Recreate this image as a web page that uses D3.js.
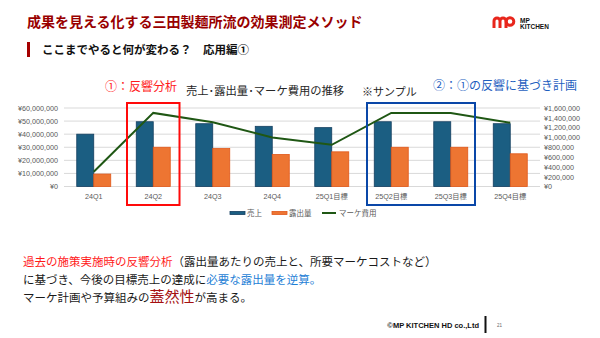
<!DOCTYPE html>
<html>
<head>
<meta charset="utf-8">
<script src="https://cdn.jsdelivr.net/npm/d3@7"></script>
<style>
  body { margin: 0; background: #fff; }
  svg { display: block; font-family: "Noto Sans CJK JP", sans-serif; }
  .num { font-family: "Liberation Sans", Arial, sans-serif; }
</style>
</head>
<body>
<div id="chart"></div>
<script>
const categories = ["24Q1", "24Q2", "24Q3", "24Q4", "25Q1目標", "25Q2目標", "25Q3目標", "25Q4目標"];
const sales = [40000000, 49500000, 48000000, 46000000, 45000000, 49500000, 49500000, 48000000];
const exposure = [9500000, 30000000, 29000000, 24500000, 26500000, 30000000, 30000000, 25000000];
const marketingCost = [300000, 1500000, 1310000, 1000000, 850000, 1500000, 1500000, 1300000];
const leftTicks = [0, 10000000, 20000000, 30000000, 40000000, 50000000, 60000000];
const rightTicks = [0, 200000, 400000, 600000, 800000, 1000000, 1200000, 1400000, 1600000];
const seriesNames = ["売上", "露出量", "マーケ費用"];

const width = 600, height = 338;
const plot = { left: 64, right: 540, top: 108, bottom: 186.5 };

const svg = d3.select("#chart").append("svg")
  .attr("width", width).attr("height", height);

// header
svg.append("text").attr("x", 27).attr("y", 27)
  .attr("font-size", 14).attr("font-weight", "bold").attr("fill", "#990000")
  .text("成果を見える化する三田製麺所流の効果測定メソッド");
svg.append("rect").attr("x", 27).attr("y", 42).attr("width", 3).attr("height", 15).attr("fill", "#a50000");
svg.append("text").attr("x", 42).attr("y", 54)
  .attr("font-size", 11.5).attr("font-weight", "bold").attr("fill", "#111")
  .text("ここまでやると何が変わる？　応用編①");

// logo
const logo = svg.append("g");
logo.append("path")
  .attr("d", "M494,28 V21 a3,3 0 0 1 6,0 V28 M500,21 a3,3 0 0 1 6,0 V28")
  .attr("fill", "none").attr("stroke", "#e8261c").attr("stroke-width", 3);
logo.append("circle").attr("cx", 510).attr("cy", 21.5).attr("r", 3.8)
  .attr("fill", "none").attr("stroke", "#e8261c").attr("stroke-width", 3);
logo.append("text").attr("x", 520).attr("y", 22.5).attr("class", "num")
  .attr("font-size", 6.5).attr("font-weight", "bold").attr("fill", "#111").text("MP");
logo.append("text").attr("x", 520).attr("y", 29).attr("class", "num")
  .attr("font-size", 6.5).attr("font-weight", "bold").attr("fill", "#111").text("KITCHEN");

// scales
const x = d3.scaleBand().domain(categories).range([plot.left, plot.right]).padding(0);
const groupW = 34;
const x1 = d3.scaleBand().domain(["sales", "exposure"])
  .range([(x.bandwidth() - groupW) / 2, (x.bandwidth() + groupW) / 2]);
const yL = d3.scaleLinear().domain([0, 60000000]).range([plot.bottom, plot.top]);
const yR = d3.scaleLinear().domain([0, 1600000]).range([plot.bottom, plot.top]);

// gridlines
svg.append("g").selectAll("line").data(leftTicks).join("line")
  .attr("x1", plot.left).attr("x2", plot.right)
  .attr("y1", d => yL(d)).attr("y2", d => yL(d))
  .attr("stroke", "#d9d9d9").attr("stroke-width", 1);

// axes
const yen = d => "¥" + d3.format(",")(d);
const axL = svg.append("g").attr("transform", `translate(${plot.left},0)`)
  .call(d3.axisLeft(yL).tickValues(leftTicks).tickFormat(yen).tickSize(0).tickPadding(6));
const axR = svg.append("g").attr("transform", `translate(${plot.right},0)`)
  .call(d3.axisRight(yR).tickValues(rightTicks).tickFormat(yen).tickSize(0).tickPadding(4));
const axB = svg.append("g").attr("transform", `translate(0,${plot.bottom})`)
  .call(d3.axisBottom(x).tickSize(0).tickPadding(7));
[axL, axR, axB].forEach(a => {
  a.select(".domain").remove();
  a.selectAll("text").attr("fill", "#595959").attr("font-size", 7.2)
    .attr("font-family", "'Liberation Sans', 'Noto Sans CJK JP', sans-serif");
});

// bars
const groups = svg.append("g").selectAll("g").data(categories).join("g")
  .attr("transform", d => `translate(${x(d)},0)`);
groups.append("rect")
  .attr("x", x1("sales")).attr("width", x1.bandwidth())
  .attr("y", (d, i) => yL(sales[i])).attr("height", (d, i) => plot.bottom - yL(sales[i]))
  .attr("fill", "#1b5e82").attr("stroke", "#143f60").attr("stroke-width", 0.8);
groups.append("rect")
  .attr("x", x1("exposure")).attr("width", x1.bandwidth())
  .attr("y", (d, i) => yL(exposure[i])).attr("height", (d, i) => plot.bottom - yL(exposure[i]))
  .attr("fill", "#ed7532").attr("stroke", "#e0571a").attr("stroke-width", 0.8);

// line
const line = d3.line()
  .x((d, i) => x(categories[i]) + x.bandwidth() / 2)
  .y(d => yR(d));
svg.append("path").datum(marketingCost).attr("d", line)
  .attr("fill", "none").attr("stroke", "#1f5714").attr("stroke-width", 2);

// highlight boxes
svg.append("rect")
  .attr("x", x("24Q2") + 3.5).attr("y", 103)
  .attr("width", x.bandwidth() - 7).attr("height", 102)
  .attr("fill", "none").attr("stroke", "#ff0a0a").attr("stroke-width", 2);
svg.append("rect")
  .attr("x", x("25Q2目標") + 5.5).attr("y", 103)
  .attr("width", x("25Q3目標") + x.bandwidth() - x("25Q2目標") - 11).attr("height", 102)
  .attr("fill", "none").attr("stroke", "#0a47a8").attr("stroke-width", 2);

// chart titles / annotations
svg.append("text").attr("x", 105).attr("y", 91).attr("font-size", 12).attr("fill", "#ff1a1a").text("①：反響分析");
svg.append("text").attr("x", 186).attr("y", 95).attr("font-size", 11.3).attr("fill", "#262626").text("売上･露出量･マーケ費用の推移");
svg.append("text").attr("x", 362).attr("y", 95.5).attr("font-size", 11).attr("fill", "#262626").text("※サンプル");
svg.append("text").attr("x", 433).attr("y", 90).attr("font-size", 12).attr("fill", "#1f5fbf").text("②：①の反響に基づき計画");

// legend
const legend = svg.append("g");
const lg = [
  { x: 230, name: seriesNames[0], color: "#1b5e82", edge: "#143f60" },
  { x: 272, name: seriesNames[1], color: "#ed7532", edge: "#e0571a" },
  { x: 322, name: seriesNames[2], color: "#1f5714", edge: null }
];
lg.forEach(l => {
  if (l.edge) {
    legend.append("rect").attr("x", l.x).attr("y", 211.5).attr("width", 15).attr("height", 3)
      .attr("fill", l.color).attr("stroke", l.edge).attr("stroke-width", 0.8);
  } else {
    legend.append("line").attr("x1", l.x).attr("x2", l.x + 14).attr("y1", 213).attr("y2", 213)
      .attr("stroke", l.color).attr("stroke-width", 2);
  }
  legend.append("text").attr("x", l.x + 17).attr("y", 215.5)
    .attr("font-size", 7.5).attr("fill", "#595959").text(l.name);
});

// body text
const body = svg.append("g").attr("font-size", 11.5).attr("fill", "#1a1a1a");
const t1 = body.append("text").attr("x", 23).attr("y", 266);
t1.append("tspan").attr("fill", "#ff1a1a").text("過去の施策実施時の反響分析");
t1.append("tspan").text("（露出量あたりの売上と、所要マーケコストなど）");
const t2 = body.append("text").attr("x", 23).attr("y", 284);
t2.append("tspan").text("に基づき、今後の目標売上の達成に");
t2.append("tspan").attr("fill", "#1f7fd6").text("必要な露出量を逆算。");
const t3 = body.append("text").attr("x", 23).attr("y", 302);
t3.append("tspan").text("マーケ計画や予算組みの");
t3.append("tspan").attr("fill", "#a51010").attr("font-size", 15).text("蓋然性");
t3.append("tspan").text("が高まる。");

// footer
svg.append("text").attr("x", 479).attr("y", 328).attr("text-anchor", "end").attr("class", "num")
  .attr("font-size", 7.5).attr("font-weight", "bold").attr("fill", "#111").text("©MP KITCHEN HD co.,Ltd");
svg.append("rect").attr("x", 484.5).attr("y", 316).attr("width", 2).attr("height", 17).attr("fill", "#111");
svg.append("text").attr("x", 497).attr("y", 327).attr("class", "num")
  .attr("font-size", 4.5).attr("fill", "#666").text("21");
</script>
</body>
</html>
